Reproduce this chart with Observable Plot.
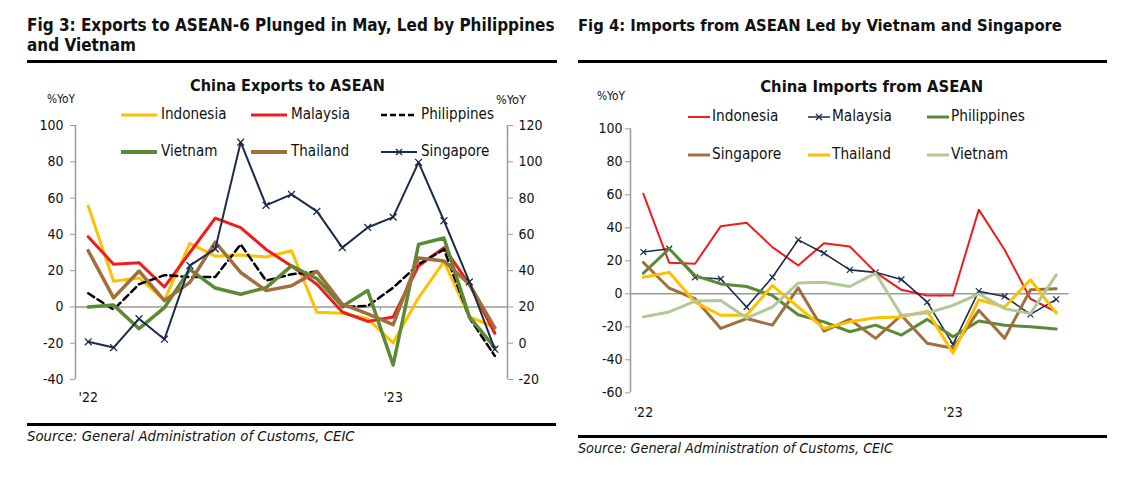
<!DOCTYPE html>
<html><head><meta charset="utf-8">
<script src="https://cdn.jsdelivr.net/npm/d3@7"></script>
<script src="https://cdn.jsdelivr.net/npm/@observablehq/plot@0.6"></script>
<style>
body{margin:0;background:#fff;width:1137px;height:477px;overflow:hidden;position:relative;font-family:"DejaVu Sans Condensed","DejaVu Sans",sans-serif;color:#111;}
.t{position:absolute;white-space:nowrap;line-height:1.15;}
.bar{position:absolute;background:#000;}
.box{position:absolute;}
</style></head><body>
<script>
// ---------- data ----------
const months = ["Jan-22","Feb-22","Mar-22","Apr-22","May-22","Jun-22","Jul-22","Aug-22","Sep-22","Oct-22","Nov-22","Dec-22","Jan-23","Feb-23","Mar-23","Apr-23","May-23"];
const yearTicks = ["Jan-22","Jan-23"];
const yearLabels = ["'22","'23"];

// Fig 3: exports (%YoY); Singapore on right axis
const expIndonesia  = [55.6,14.2,16,3.8,35,28,28.6,27.5,31,-3,-3.5,-6.5,-19.8,5,25,-5.5,-11.2];
const expMalaysia   = [38.7,23.5,24.4,11,30,49,43.7,31.7,22.6,12.5,-2.8,-8,-5.5,22.6,32.7,12.5,-14.5];
const expPhilippines= [7.5,-1.5,12.5,17.5,16.5,16.5,34.5,14.5,18,19.5,0,0.5,10.6,23.5,31.7,-6,-27];
const expVietnam    = [0,1,-12,-0.4,20.7,10.4,7,10.6,22.6,15.5,0.3,9,-32,34.5,38,-5.5,-22.4];
const expThailand   = [31,5,19.8,3.5,13.5,35.7,19,9,11.7,19.6,1.5,-3.8,-9.8,27,25.3,12.5,-11.5];
const expSingapore  = [0.8,-2.4,13.5,2.2,42.8,52,110.8,76,82,72.7,52.7,63.8,69.5,99.7,67.5,33.8,-3.3];

// Fig 4: imports (%YoY)
const impIndonesia  = [60.6,18.8,18.2,41,43,28.3,17.2,30.7,28.7,13,2.4,-1,-1,51,26.7,-3,-11];
const impMalaysia   = [25.3,27.3,10,9,-8,10,32.7,24.6,14.5,13,8.7,-5,-30.7,1.6,-1.6,-12.5,-3.4];
const impPhilippines= [12.5,27.3,11,6,4.4,-1,-12.7,-17,-23,-19,-25,-15.5,-26,-16.5,-19,-20,-21.4];
const impSingapore  = [19,3.4,-3,-21,-15,-19,3.6,-22.6,-15.5,-27,-13,-30,-33,-10,-27,2.4,3];
const impThailand   = [10,13,-5,-13,-13,5,-8,-21,-17,-14.5,-14,-10.5,-36,-3.6,-8,8.5,-11.7];
const impVietnam    = [-14,-11,-4.4,-4,-14.7,-8,6.5,7,4.4,12.5,-13,-11.7,-7,0,-9,-12,11.5];

const leftTicks  = [-40,-20,0,20,40,60,80,100];
const rightTicks = [-20,0,20,40,60,80,100,120];
const impTicks   = [-60,-40,-20,0,20,40,60,80,100];

const C = {yellow:"#FFC000", red:"#EE1C1C", black:"#000", green:"#5B8A34", brown:"#A06F3B", navy:"#1B2B48", lgreen:"#B2C896"};

// ---------- helpers ----------
function txt(s,o){
  const d=document.createElement('div');d.className='t';d.textContent=s;
  d.style.left=o.x+'px';d.style.top=o.y+'px';d.style.fontSize=o.size+'px';
  if(o.bold)d.style.fontWeight='bold'; if(o.italic)d.style.fontStyle='italic';
  document.body.appendChild(d);
  let size=o.size;
  if(o.w){const w=d.getBoundingClientRect().width; size=o.size*o.w/w; d.style.fontSize=size+'px';}
  d.style.transform=`translate(${o.anchor==='middle'?'-50%':'0'},-50%)`;
  return size;
}
function bar(x1,x2,y,h){const d=document.createElement('div');d.className='bar';Object.assign(d.style,{left:x1+'px',width:(x2-x1)+'px',top:y+'px',height:h+'px'});document.body.appendChild(d);}
function swatch(x,y,w,s){
  const ns="http://www.w3.org/2000/svg";
  const svg=document.createElementNS(ns,'svg');svg.setAttribute('width',w+8);svg.setAttribute('height',12);
  svg.style.position='absolute';svg.style.left=(x-4)+'px';svg.style.top=(y-6)+'px';
  const l=document.createElementNS(ns,'line');
  l.setAttribute('x1',4);l.setAttribute('x2',w+4);l.setAttribute('y1',6);l.setAttribute('y2',6);
  l.setAttribute('stroke',s.color);l.setAttribute('stroke-width',s.width);
  if(s.dash)l.setAttribute('stroke-dasharray',s.dash);
  svg.appendChild(l);
  if(s.marker){const p=document.createElementNS(ns,'path');const cx=4+w/2;
    p.setAttribute('d',`M${cx-3},3L${cx+3},9M${cx-3},9L${cx+3},3`);p.setAttribute('stroke',s.color);p.setAttribute('stroke-width',1.3);svg.appendChild(p);}
  document.body.appendChild(svg);
}
function place(node,x,y){const d=document.createElement('div');d.className='box';d.style.left=x+'px';d.style.top=y+'px';d.appendChild(node);document.body.appendChild(d);}
const idx = m => months.indexOf(m);
const rows = (name,arr,off=0) => arr.map((v,i)=>({name,i,v:v+off}));
const fmt = d => String(d);
const yearFmt = d => yearLabels[yearTicks.map(idx).indexOf(d)];

// ---------- Fig 3 ----------
const fTitle = txt("Fig 3: Exports to ASEAN-6 Plunged in May, Led by Philippines",{x:27,y:26,size:15,bold:true,w:528});
txt("and Vietnam",{x:27,y:46,size:fTitle,bold:true});
bar(27,557,60,3);
txt("China Exports to ASEAN",{x:287.5,y:86,size:18,bold:true,w:195,anchor:'middle'});
txt("%YoY",{x:47,y:100,size:11,w:28});
txt("%YoY",{x:496,y:100,size:11,w:30});

const xDom=[-0.5,months.length-0.5];
const offset = rightTicks[0]-leftTicks[0]; // right = left + offset
const boundary = idx("Jan-23")-0.5;
const legL=[
 {n:"Indonesia",c:C.yellow,w:3,x:121,y:115},{n:"Malaysia",c:C.red,w:3,x:251,y:115},{n:"Philippines",c:C.black,w:2.5,dash:"6,3",x:381,y:115},
 {n:"Vietnam",c:C.green,w:4,x:121,y:152},{n:"Thailand",c:C.brown,w:4,x:251,y:152},{n:"Singapore",c:C.navy,w:2,marker:true,x:381,y:152}];
legL.forEach(l=>{swatch(l.x,l.y,36,{color:l.c,width:l.w,dash:l.dash,marker:l.marker});});
const lsz = txt("Philippines",{x:421,y:115,size:14,w:73});
legL.forEach(l=>{ if(l.n!=="Philippines") txt(l.n,{x:l.x+40,y:l.y,size:lsz}); });

const styleAx={fontFamily:"DejaVu Sans Condensed, DejaVu Sans, sans-serif",fontSize:"14px",background:"transparent",overflow:"visible"};
const p1 = Plot.plot({
  width:560,height:360,marginLeft:75,marginRight:53,marginTop:65,marginBottom:41,
  style:styleAx,
  x:{type:"linear",domain:xDom},
  y:{domain:[leftTicks[0],leftTicks[leftTicks.length-1]]},
  marks:[
    Plot.ruleY([0],{stroke:"#9a9a9a",strokeWidth:1.5}),
    Plot.ruleX([xDom[0]],{stroke:"#9a9a9a",strokeWidth:1.5}),
    Plot.ruleX([xDom[1]],{stroke:"#9a9a9a",strokeWidth:1.5}),
    Plot.ruleX([boundary],{y1:0,y2:-2.2,stroke:"#9a9a9a",strokeWidth:1.2}),
    Plot.axisY({ticks:leftTicks,tickFormat:fmt,tickSize:5,tickPadding:7,stroke:"#9a9a9a",fill:"#111",label:null}),
    Plot.axisY({anchor:"right",ticks:rightTicks.map(v=>v-offset),tickFormat:d=>String(d+offset),tickSize:5,tickPadding:6,stroke:"#9a9a9a",fill:"#111",label:null}),
    Plot.axisX({ticks:yearTicks.map(idx),tickFormat:yearFmt,tickSize:0,tickPadding:13,fill:"#111",label:null}),
    Plot.line(rows("Indonesia",expIndonesia),{x:"i",y:"v",stroke:C.yellow,strokeWidth:3}),
    Plot.line(rows("Malaysia",expMalaysia),{x:"i",y:"v",stroke:C.red,strokeWidth:3}),
    Plot.line(rows("Philippines",expPhilippines),{x:"i",y:"v",stroke:C.black,strokeWidth:2.5,strokeDasharray:"7,4"}),
    Plot.line(rows("Vietnam",expVietnam),{x:"i",y:"v",stroke:C.green,strokeWidth:3.5}),
    Plot.line(rows("Thailand",expThailand),{x:"i",y:"v",stroke:C.brown,strokeWidth:3.5}),
    Plot.line(rows("Singapore",expSingapore,-offset),{x:"i",y:"v",stroke:C.navy,strokeWidth:2}),
    Plot.dot(rows("Singapore",expSingapore,-offset),{x:"i",y:"v",symbol:"times",r:3.2,stroke:C.navy,strokeWidth:1.3})
  ]
});
place(p1,0,60);
bar(27,556,423,3);
txt("Source: General Administration of Customs, CEIC",{x:27,y:436,size:13,italic:true,w:328});

// ---------- Fig 4 ----------
txt("Fig 4: Imports from ASEAN Led by Vietnam and Singapore",{x:578,y:26,size:fTitle,bold:true,w:484});
bar(578,1107,60,3);
txt("China Imports from ASEAN",{x:871.7,y:87,size:18,bold:true,w:223,anchor:'middle'});
txt("%YoY",{x:597,y:97,size:11,w:28});
const legR=[
 {n:"Indonesia",c:C.red,w:2,x:688,y:117},{n:"Malaysia",c:C.navy,w:1.5,marker:true,x:808,y:117},{n:"Philippines",c:C.green,w:3,x:927,y:117},
 {n:"Singapore",c:C.brown,w:3,x:688,y:155},{n:"Thailand",c:C.yellow,w:3,x:808,y:155},{n:"Vietnam",c:C.lgreen,w:3,x:927,y:155}];
legR.forEach(l=>swatch(l.x,l.y,22,{color:l.c,width:l.w,marker:l.marker}));
const rsz = txt("Philippines",{x:951,y:117,size:14,w:74});
legR.forEach(l=>{ if(l.n!=="Philippines") txt(l.n,{x:l.x+24,y:l.y,size:rsz}); });

const p2 = Plot.plot({
  width:577,height:380,marginLeft:70,marginRight:68.4,marginTop:68.3,marginBottom:47.7,
  style:styleAx,
  x:{type:"linear",domain:xDom},
  y:{domain:[impTicks[0],impTicks[impTicks.length-1]]},
  marks:[
    Plot.ruleY([0],{stroke:"#9a9a9a",strokeWidth:1.5}),
    Plot.ruleX([xDom[0]],{stroke:"#9a9a9a",strokeWidth:1.5}),
    Plot.ruleX([boundary],{y1:0,y2:-2.4,stroke:"#9a9a9a",strokeWidth:1.2}),
    Plot.axisY({ticks:impTicks,tickFormat:fmt,tickSize:5,tickPadding:3,stroke:"#9a9a9a",fill:"#111",label:null}),
    Plot.axisX({ticks:yearTicks.map(idx),tickFormat:yearFmt,tickSize:0,tickPadding:14,fill:"#111",label:null}),
    Plot.line(rows("Indonesia",impIndonesia),{x:"i",y:"v",stroke:C.red,strokeWidth:2}),
    Plot.line(rows("Malaysia",impMalaysia),{x:"i",y:"v",stroke:C.navy,strokeWidth:1.6}),
    Plot.dot(rows("Malaysia",impMalaysia),{x:"i",y:"v",symbol:"times",r:2.8,stroke:C.navy,strokeWidth:1.2}),
    Plot.line(rows("Philippines",impPhilippines),{x:"i",y:"v",stroke:C.green,strokeWidth:3}),
    Plot.line(rows("Singapore",impSingapore),{x:"i",y:"v",stroke:C.brown,strokeWidth:3}),
    Plot.line(rows("Thailand",impThailand),{x:"i",y:"v",stroke:C.yellow,strokeWidth:3}),
    Plot.line(rows("Vietnam",impVietnam),{x:"i",y:"v",stroke:C.lgreen,strokeWidth:3})
  ]
});
place(p2,560,60);
bar(578,1107,435,3);
txt("Source: General Administration of Customs, CEIC",{x:578,y:448,size:13,italic:true,w:315});
</script>
</body></html>
